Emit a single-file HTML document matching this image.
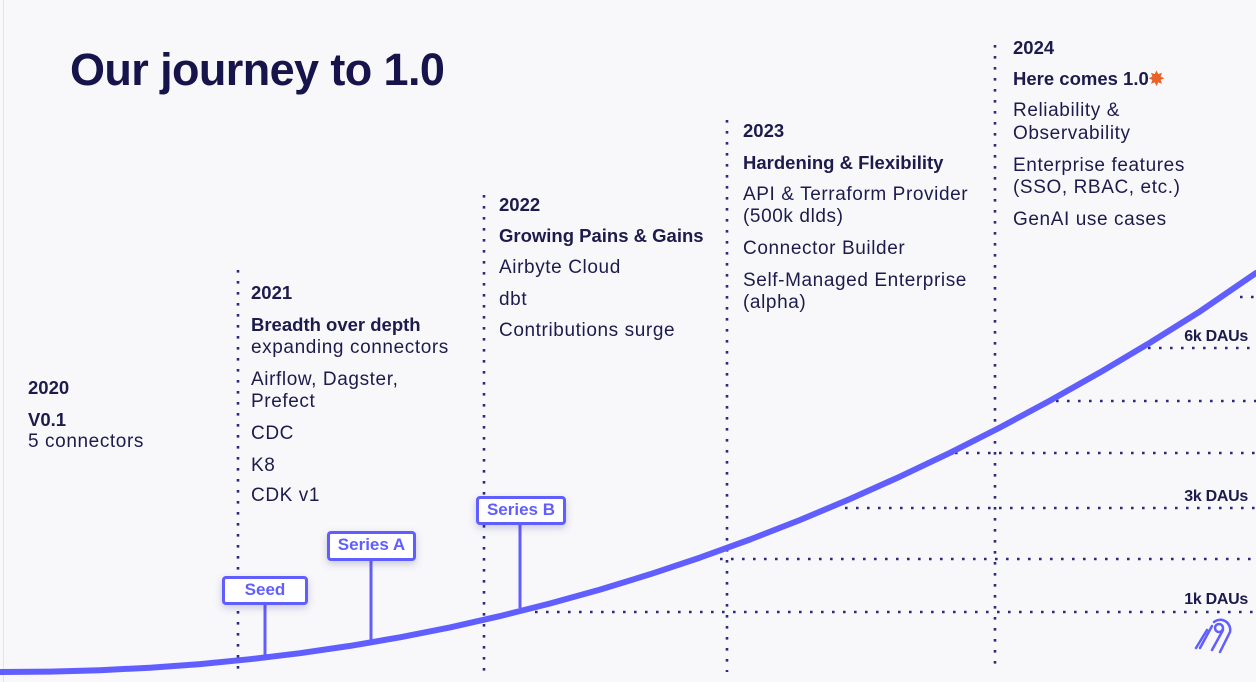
<!DOCTYPE html>
<html><head><meta charset="utf-8"><style>
html,body{margin:0;padding:0}
body{width:1256px;height:682px;position:relative;overflow:hidden;background:#f8f8fb;font-family:"Liberation Sans",sans-serif;color:#1d1b4c}
.t{position:absolute;white-space:nowrap;font-size:19px;letter-spacing:0.6px;line-height:22px;transform:translateY(-50%)}
.b{font-weight:bold;font-size:18.5px;letter-spacing:0}
.box{position:absolute;background:#fff;border:3px solid #615eff;border-radius:4px;color:#615eff;font-weight:bold;font-size:17px;text-align:center;box-sizing:border-box;line-height:22px;box-shadow:0 3px 8px rgba(60,60,120,.25)}
.dau{position:absolute;font-weight:bold;font-size:16px;right:8px;transform:translateY(-50%);letter-spacing:-0.3px}
</style></head><body>
<div style="position:absolute;left:3px;top:0;width:1px;height:682px;background:#e3e3e8"></div>
<svg width="1256" height="682" style="position:absolute;left:0;top:0">
<g stroke="#2b2a7e" stroke-width="2.6" stroke-dasharray="2.6 8.4" fill="none">
<line x1="238" y1="270" x2="238" y2="672"/>
<line x1="484" y1="195" x2="484" y2="672"/>
<line x1="727" y1="120" x2="727" y2="672"/>
<line x1="995" y1="45" x2="995" y2="672"/>
<line x1="535" y1="612" x2="1256" y2="612"/>
<line x1="720" y1="559" x2="1256" y2="559"/>
<line x1="845" y1="508" x2="1256" y2="508"/>
<line x1="955" y1="453" x2="1256" y2="453"/>
<line x1="1056" y1="401" x2="1256" y2="401"/>
<line x1="1148" y1="348" x2="1256" y2="348"/>
<line x1="1240" y1="297" x2="1256" y2="297"/>
</g>
<g stroke="#615eff" stroke-width="3">
<line x1="265" y1="600" x2="265" y2="658"/>
<line x1="371" y1="556" x2="371" y2="641"/>
<line x1="520" y1="520" x2="520" y2="608"/>
</g>
<polyline fill="none" stroke="#615eff" stroke-width="6" stroke-linejoin="round" stroke-linecap="round"
points="0,672 50,671.6 100,670.2 150,667.7 200,664.1 250,659.2 300,653.2 350,645.9 400,637.3 450,627.4 500,616.1 550,603.5 600,589.6 650,574.3 700,557.6 750,539.5 800,520 850,499 900,476.6 950,452.8 1000,427.5 1050,400.6 1100,372.4 1150,342.7 1200,311.4 1256,273"/>
<g fill="none" stroke="#615eff" stroke-width="2.5" stroke-linecap="round">
<circle cx="1219" cy="628" r="4"/>
<path d="M1223,630 L1212,650"/>
<path d="M1214,622 A10,10 0 0 1 1230,632 L1220,652"/>
<path d="M1212,626 L1200,648"/>
<path d="M1207,630 L1196,648"/>
</g>
</svg>
<div style="position:absolute;left:70px;top:42px;font-size:45px;font-weight:bold;letter-spacing:-0.6px;color:#16144a;line-height:56px">Our journey to 1.0</div>

<div class="t b" style="left:28px;top:388px">2020</div>
<div class="t b" style="left:28px;top:420px">V0.1</div>
<div class="t" style="left:28px;top:442px">5 connectors</div>

<div class="t b" style="left:251px;top:293px">2021</div>
<div class="t b" style="left:251px;top:325px">Breadth over depth</div>
<div class="t" style="left:251px;top:348px">expanding connectors</div>
<div class="t" style="left:251px;top:380px">Airflow, Dagster,</div>
<div class="t" style="left:251px;top:402px">Prefect</div>
<div class="t" style="left:251px;top:434px">CDC</div>
<div class="t" style="left:251px;top:466px">K8</div>
<div class="t" style="left:251px;top:496px">CDK v1</div>

<div class="t b" style="left:499px;top:205px">2022</div>
<div class="t b" style="left:499px;top:236px">Growing Pains &amp; Gains</div>
<div class="t" style="left:499px;top:268px">Airbyte Cloud</div>
<div class="t" style="left:499px;top:300px">dbt</div>
<div class="t" style="left:499px;top:331px">Contributions surge</div>

<div class="t b" style="left:743px;top:131px">2023</div>
<div class="t b" style="left:743px;top:163px">Hardening &amp; Flexibility</div>
<div class="t" style="left:743px;top:195px">API &amp; Terraform Provider</div>
<div class="t" style="left:743px;top:217px">(500k dlds)</div>
<div class="t" style="left:743px;top:249px">Connector Builder</div>
<div class="t" style="left:743px;top:281px">Self-Managed Enterprise</div>
<div class="t" style="left:743px;top:303px">(alpha)</div>

<div class="t b" style="left:1013px;top:48px">2024</div>
<div class="t b" style="left:1013px;top:79px">Here comes 1.0<span style="color:#e8632b">✸</span></div>
<div class="t" style="left:1013px;top:111px">Reliability &amp;</div>
<div class="t" style="left:1013px;top:134px">Observability</div>
<div class="t" style="left:1013px;top:166px">Enterprise features</div>
<div class="t" style="left:1013px;top:188px">(SSO, RBAC, etc.)</div>
<div class="t" style="left:1013px;top:220px">GenAI use cases</div>

<div class="box" style="left:222px;top:576px;width:86px;height:29px">Seed</div>
<div class="box" style="left:327px;top:531px;width:89px;height:30px">Series A</div>
<div class="box" style="left:476px;top:496px;width:90px;height:29px">Series B</div>

<div class="dau" style="top:337px">6k DAUs</div>
<div class="dau" style="top:497px">3k DAUs</div>
<div class="dau" style="top:600px">1k DAUs</div>
</body></html>
